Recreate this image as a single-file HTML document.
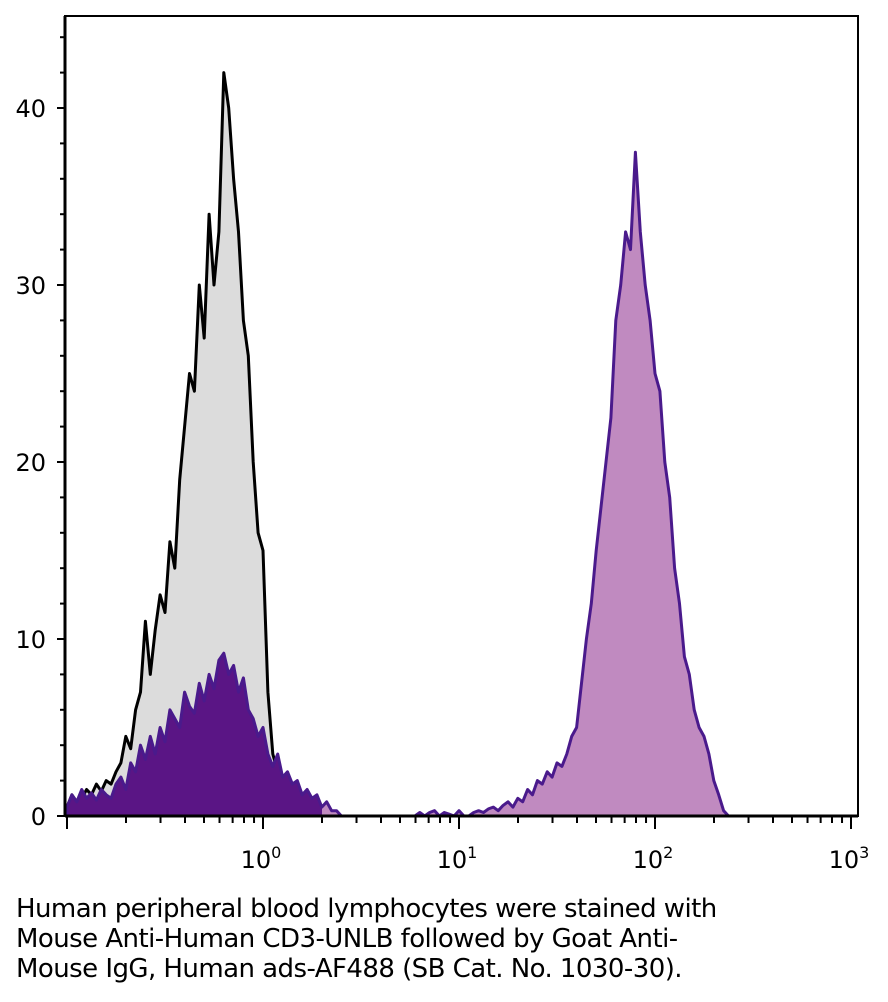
<!DOCTYPE html>
<html><head><meta charset="utf-8"><style>
body{margin:0;background:#fff;width:888px;height:1002px;overflow:hidden;font-family:"Liberation Sans",sans-serif}
#cap{position:absolute;left:16px;top:894px;font-size:26px;line-height:30px;color:#000;font-family:"DejaVu Sans","Liberation Sans",sans-serif;letter-spacing:-0.55px;white-space:nowrap}
</style></head><body>
<svg id="chart" width="888" height="880" style="position:absolute;left:0;top:0"></svg>
<div id="cap">Human peripheral blood lymphocytes were stained with<br>Mouse Anti-Human CD3-UNLB followed by Goat Anti-<br>Mouse IgG, Human ads-AF488 (SB Cat. No. 1030-30).</div>
<script>
const binStart=-1, binStep=0.025;
const controlCounts=[0.5,1.2,0.8,1.0,1.5,1.2,1.8,1.4,2.0,1.8,2.5,3.0,4.5,3.8,6.0,7.0,11.0,8.0,10.5,12.5,11.5,15.5,14.0,19.0,22.0,25.0,24.0,30.0,27.0,34.0,30.0,33.0,42.0,40.0,36.0,33.0,28.0,26.0,20.0,16.0,15.0,7.0,3.5,2.5,1.5,1.0,0.5,0.2,0];
const stainedCounts=[0.5,1.2,0.8,1.5,1.0,1.3,0.9,1.5,1.2,1.0,1.8,2.2,1.5,3.0,2.5,4.0,3.2,
4.5,3.5,5.0,4.2,6.0,5.5,5.0,7.0,6.2,5.8,7.5,6.5,8.0,7.2,8.8,9.2,
8.0,8.5,7.0,7.8,6.0,5.5,4.5,5.0,3.5,2.8,3.5,2.2,2.5,1.8,2.0,1.2,
1.5,1.0,1.2,0.5,0.8,0.3,0.3,0,0,0,0,0,0,0,0,0,
0,0,0,0,0,0,0,0.2,0,0.2,0.3,0,0.2,0.1,0,0.3,
0,0,0.2,0.3,0.2,0.4,0.5,0.3,0.6,0.8,0.5,1.0,0.8,1.5,1.2,2.0,
1.8,2.5,2.2,3.0,2.8,3.5,4.5,5.0,7.5,10.0,12.0,15.0,17.5,20.0,22.5,28.0,
30.0,33.0,32.0,37.5,33.0,30.0,28.0,25.0,24.0,20.0,18.0,14.0,12.0,9.0,8.0,6.0,
5.0,4.5,3.5,2.0,1.2,0.3,0,0];
const yTicks=[0,10,20,30,40];
const xDecades=[0,1,2,3];

const NS='http://www.w3.org/2000/svg';
const svg=document.getElementById('chart');
const L=65,R=858,T=16,B=816;
const X=lg=>263+lg*196;
const Y=v=>B-v*17.7;
function mk(tag,attrs,parent){const e=document.createElementNS(NS,tag);for(const k in attrs)e.setAttribute(k,attrs[k]);(parent||svg).appendChild(e);return e;}

const defs=mk('defs',{});
const g=mk('linearGradient',{id:'pg',x1:'0',x2:'1',y1:'0',y2:'0',gradientUnits:'userSpaceOnUse'},defs);
g.setAttribute('x1',L);g.setAttribute('x2',R);
const stopAt=(X(0.3)-L)/(R-L);
mk('stop',{offset:stopAt,'stop-color':'#5a1585'},g);
mk('stop',{offset:stopAt,'stop-color':'#c08ac0'},g);
const cp=mk('clipPath',{id:'cl'},defs);
mk('rect',{x:L,y:T,width:R-L,height:B-T},cp);

function pathFor(arr){
  let d='M'+X(binStart).toFixed(1)+','+B;
  arr.forEach((v,i)=>{d+=' L'+X(binStart+i*binStep).toFixed(1)+','+Y(v).toFixed(1);});
  d+=' L'+X(binStart+(arr.length-1)*binStep).toFixed(1)+','+B+' Z';
  return d;
}
const cg=mk('g',{'clip-path':'url(#cl)'});
const c1=mk('path',{d:pathFor(controlCounts),fill:'#dcdcdc',stroke:'#000','stroke-width':3,'stroke-linejoin':'round'},cg);


const s1=mk('path',{d:pathFor(stainedCounts),fill:'url(#pg)',stroke:'#4a1a8c','stroke-width':3,'stroke-linejoin':'round'},cg);



const fr=mk('rect',{x:L,y:T,width:R-L,height:B-T,fill:'none',stroke:'#000','stroke-width':2});


mk('line',{x1:L,y1:B,x2:R,y2:B,stroke:'#000','stroke-width':3});
mk('line',{x1:L,y1:T,x2:L,y2:B,stroke:'#000','stroke-width':3});

for(let v=0;v<=44;v+=2){const major=v%10===0;mk('line',{x1:major?L-8:L-5,x2:L,y1:Y(v),y2:Y(v),stroke:'#000','stroke-width':2});}
yTicks.forEach(v=>{const t=mk('text',{x:46,y:Y(v)+9,'text-anchor':'end','font-size':24,'font-family':'DejaVu Sans, Liberation Sans, sans-serif'});t.textContent=v;

});

for(let d=-1;d<3;d++){for(let m=1;m<=9;m++){const lg=d+Math.log10(m);const px=X(lg);if(px<L)continue;
mk('line',{x1:px,x2:px,y1:B,y2:B+(m===1?13:7),stroke:'#000','stroke-width':2});}}
mk('line',{x1:X(3),x2:X(3),y1:B,y2:B+13,stroke:'#000','stroke-width':2});
xDecades.forEach(d=>{const t=mk('text',{x:X(d)-2,y:868,'text-anchor':'middle','font-size':24,'font-family':'DejaVu Sans, Liberation Sans, sans-serif'});


t.appendChild(document.createTextNode('10'));
const s=mk('tspan',{dy:-10,'font-size':16},t);s.textContent=d;});
</script>
</body></html>
